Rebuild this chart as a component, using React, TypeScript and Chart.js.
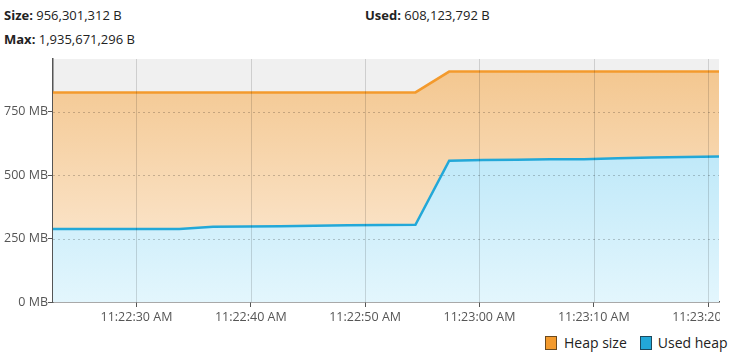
import React, { useEffect, useRef } from "react";
import { Chart, registerables } from "chart.js";

Chart.register(...registerables);

// seconds after 11:22:00 AM
const sampleTimes = [21.95, 24.9, 27.85, 30.8, 33.75, 36.7, 39.65, 42.6, 45.55, 48.5, 51.45, 54.4, 57.35, 60.3, 63.25, 66.2, 69.15, 72.1, 75.05, 78.0, 80.95];
const heapSizeMB = [826, 826, 826, 826, 826, 826, 826, 826, 826, 826, 826, 826, 908, 908, 908, 908, 908, 908, 908, 908, 908];
const usedHeapMB = [288, 288, 288, 288, 288, 297, 298, 299, 300, 302, 303, 304, 557, 560, 561, 563, 563, 566, 569, 571, 573];
const xTickSeconds = [30, 40, 50, 60, 70, 80];
const yTickMB = [0, 250, 500, 750];
const seriesNames = ["Heap size", "Used heap"];
const headerStats = [
  { label: "Size:", value: "956,301,312 B" },
  { label: "Used:", value: "608,123,792 B" },
  { label: "Max:", value: "1,935,671,296 B" },
];

const X_MIN = 22.7;
const X_MAX = 80.95;
const Y_MAX = 957.6;

const FONT = "'Open Sans', 'Noto Sans', sans-serif";

function fmtTime(t: number): string {
  const min = 22 + Math.floor(t / 60);
  const sec = Math.round(t % 60);
  return `11:${String(min).padStart(2, "0")}:${String(sec).padStart(2, "0")} AM`;
}

function grad(ctx: any, area: any, top: string, bottom: string) {
  const g = ctx.createLinearGradient(0, area.top, 0, area.bottom);
  g.addColorStop(0, top);
  g.addColorStop(1, bottom);
  return g;
}

const bgPlugin = {
  id: "plotBg",
  beforeDraw(chart: any) {
    const { ctx, chartArea } = chart;
    if (!chartArea) return;
    ctx.save();
    ctx.fillStyle = "#f0f0f0";
    ctx.fillRect(chartArea.left, chartArea.top, chartArea.right - chartArea.left, chartArea.bottom - chartArea.top);
    ctx.restore();
  },
};

// grid lines drawn above the filled areas, positioned by the chart's own scales
const overlayGridPlugin = {
  id: "overlayGrid",
  afterDatasetsDraw(chart: any) {
    const { ctx, chartArea, scales } = chart;
    if (!chartArea) return;
    ctx.save();
    ctx.beginPath();
    ctx.rect(chartArea.left, chartArea.top, chartArea.right - chartArea.left, chartArea.bottom - chartArea.top);
    ctx.clip();
    ctx.lineWidth = 1;
    ctx.strokeStyle = "rgba(0,0,0,0.14)";
    ctx.setLineDash([]);
    for (const v of xTickSeconds) {
      const x = Math.round(scales.x.getPixelForValue(v)) + 0.5;
      ctx.beginPath();
      ctx.moveTo(x, chartArea.top);
      ctx.lineTo(x, chartArea.bottom);
      ctx.stroke();
    }
    ctx.strokeStyle = "rgba(0,0,0,0.2)";
    ctx.setLineDash([2, 3]);
    for (const v of yTickMB) {
      if (v === 0) continue;
      const y = Math.round(scales.y.getPixelForValue(v)) + 0.5;
      ctx.beginPath();
      ctx.moveTo(chartArea.left, y);
      ctx.lineTo(chartArea.right, y);
      ctx.stroke();
    }
    ctx.restore();
  },
};

export default function App() {
  const ref = useRef<HTMLCanvasElement | null>(null);

  useEffect(() => {
    if (!ref.current) return;
    const used = sampleTimes.map((t, i) => ({ x: t, y: usedHeapMB[i] }));
    const size = sampleTimes.map((t, i) => ({ x: t, y: heapSizeMB[i] }));
    const chart = new Chart(ref.current, {
      type: "line",
      data: {
        datasets: [
          {
            label: seriesNames[1],
            data: used,
            borderColor: "#23a8d8",
            borderWidth: 2.5,
            pointRadius: 0,
            tension: 0,
            fill: "origin",
            backgroundColor: (c: any) => {
              const a = c.chart.chartArea;
              if (!a) return "#c0e9f8";
              return grad(c.chart.ctx, a, "rgb(168,224,246)", "rgb(227,246,253)");
            },
          },
          {
            label: seriesNames[0],
            data: size,
            borderColor: "#f39a2d",
            borderWidth: 2.5,
            pointRadius: 0,
            tension: 0,
            fill: "origin",
            backgroundColor: (c: any) => {
              const a = c.chart.chartArea;
              if (!a) return "#f7d6ab";
              return grad(c.chart.ctx, a, "rgb(243,197,140)", "rgb(253,238,221)");
            },
          },
        ],
      },
      options: {
        animation: false,
        responsive: false,
        maintainAspectRatio: false,
        layout: { padding: { top: 10, right: 1, left: 0, bottom: 0 } },
        plugins: { legend: { display: false }, tooltip: { enabled: false } },
        scales: {
          x: {
            type: "linear",
            min: X_MIN,
            max: X_MAX,
            afterBuildTicks: (axis: any) => {
              axis.ticks = xTickSeconds.map((v) => ({ value: v }));
            },
            afterFit: (scale: any) => {
              scale.paddingLeft = 0;
              scale.paddingRight = 0;
              scale.height = 30;
            },
            ticks: {
              autoSkip: false,
              maxRotation: 0,
              padding: 3,
              color: "#555",
              font: { family: FONT, size: 12.5 },
              callback: (v: any) => fmtTime(Number(v)),
            },
            grid: {
              drawOnChartArea: false,
              color: "rgba(0,0,0,0.14)",
              lineWidth: 1,
              tickLength: 5,
              tickColor: "#555",
            },
            border: { color: "#555", width: 1.5 },
          },
          y: {
            type: "linear",
            min: 0,
            max: Y_MAX,
            afterBuildTicks: (axis: any) => {
              axis.ticks = yTickMB.map((v) => ({ value: v }));
            },
            afterFit: (scale: any) => {
              scale.width = 53;
              scale.paddingTop = 0;
              scale.paddingBottom = 0;
            },
            ticks: {
              padding: 0,
              color: "#555",
              font: { family: FONT, size: 12.5 },
              callback: (v: any) => `${v} MB`,
            },
            grid: {
              drawOnChartArea: false,
              color: "rgba(0,0,0,0.2)",
              lineWidth: 1,
              tickLength: 5,
              tickColor: "#555",
            },
            border: { color: "#555", width: 1.5 },
          },
        },
      },
      plugins: [bgPlugin, overlayGridPlugin],
    } as any);
    return () => chart.destroy();
  }, []);

  const textStyle: React.CSSProperties = {
    position: "absolute",
    fontFamily: FONT,
    fontSize: 13,
    color: "#222",
    whiteSpace: "nowrap",
    lineHeight: "16px",
  };

  return (
    <div style={{ position: "fixed", left: 0, top: 0, width: 731, height: 356, background: "#fff", overflow: "hidden" }}>
      <div style={{ ...textStyle, left: 4, top: 7 }}>
        <b>{headerStats[0].label}</b> {headerStats[0].value}
      </div>
      <div style={{ ...textStyle, left: 365, top: 7 }}>
        <b>{headerStats[1].label}</b> {headerStats[1].value}
      </div>
      <div style={{ ...textStyle, left: 4, top: 31 }}>
        <b>{headerStats[2].label}</b> {headerStats[2].value}
      </div>
      <canvas ref={ref} width={720} height={283} style={{ position: "absolute", left: 0, top: 49, width: 720, height: 283 }} />
      <div style={{ ...textStyle, fontSize: 14, left: 545, top: 335, display: "flex", alignItems: "center" }}>
        <span style={{ display: "inline-block", width: 10, height: 12, background: "#f39a2d", border: "1px solid #6b4a1f", marginRight: 7 }} />
        <span>{seriesNames[0]}</span>
        <span style={{ display: "inline-block", width: 10, height: 12, background: "#23a8d8", border: "1px solid #1c4a5e", marginLeft: 13, marginRight: 6 }} />
        <span>{seriesNames[1]}</span>
      </div>
    </div>
  );
}
